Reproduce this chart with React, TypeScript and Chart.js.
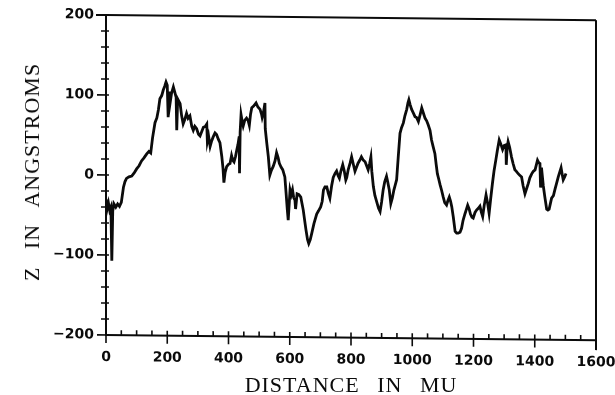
import React, { useEffect, useRef } from "react";
import { Chart, registerables } from "chart.js";

Chart.register(...registerables);

// Surface profile: lateral distance (MU) and height Z (angstroms)
const distance = [
  0, 4, 8, 12, 16, 19, 22, 26, 32, 38, 44, 50, 57, 62, 67, 75, 84, 92, 100, 108,
  116, 124, 133, 140, 146, 152, 160, 166, 171, 176, 182, 187, 192, 196, 200, 203, 206, 209, 214, 220,
  225, 229, 231, 234, 242, 247, 252, 257, 263, 268, 274, 280, 285, 290, 296, 302, 307, 313, 318, 324,
  329, 331, 335, 340, 345, 350, 356, 361, 367, 372, 378, 382, 385, 389, 394, 400, 405, 410, 414, 418,
  423, 427, 431, 435, 436, 438, 441, 445, 448, 453, 459, 464, 468, 472, 476, 482, 490, 496, 503, 508,
  510, 514, 519, 520, 525, 530, 535, 540, 546, 552, 557, 562, 566, 572, 577, 584, 588, 592, 595, 598,
  601, 605, 609, 613, 617, 619, 624, 630, 636, 640, 644, 649, 653, 658, 662, 667, 672, 679, 688, 694,
  701, 706, 710, 715, 721, 726, 731, 737, 742, 748, 753, 758, 762, 767, 773, 778, 783, 786, 791, 797,
  802, 808, 813, 818, 823, 829, 834, 840, 846, 851, 856, 861, 865, 868, 873, 878, 884, 890, 895, 900,
  905, 910, 916, 920, 925, 930, 935, 940, 945, 949, 954, 960, 965, 971, 976, 982, 986, 989, 993, 998,
  1003, 1009, 1014, 1020, 1026, 1031, 1036, 1042, 1047, 1052, 1058, 1063, 1068, 1074, 1078, 1082, 1086, 1091, 1096, 1101,
  1106, 1112, 1116, 1121, 1125, 1129, 1134, 1140, 1145, 1150, 1156, 1161, 1166, 1172, 1177, 1181, 1186, 1190, 1195, 1199,
  1205, 1210, 1215, 1221, 1226, 1230, 1235, 1241, 1246, 1251, 1256, 1262, 1267, 1273, 1278, 1284, 1289, 1295, 1300, 1306,
  1307, 1310, 1313, 1318, 1324, 1329, 1335, 1340, 1346, 1351, 1357, 1362, 1368, 1373, 1379, 1384, 1390, 1395, 1401, 1405,
  1409, 1413, 1417, 1419, 1422, 1428, 1433, 1439, 1443, 1447, 1451, 1455, 1461, 1466, 1471, 1477, 1482, 1486, 1490, 1493,
  1498, 1502,
];

const heightZ = [
  -30, -42, -35, -44, -40, -107, -45, -36, -40, -36, -39, -34, -15, -8, -4, -2, -1, 3, 8, 12,
  18, 22, 27, 30, 28, 47, 66, 72, 82, 96, 100, 107, 112, 117, 113, 73, 105, 90, 103, 111,
  104, 98, 57, 96, 90, 75, 65, 70, 78, 72, 75, 62, 57, 62, 59, 52, 50, 56, 61, 62,
  65, 43, 50, 37, 44, 49, 54, 52, 46, 42, 25, 10, -8, 5, 12, 15, 16, 26, 20, 18,
  25, 33, 40, 50, 4, 55, 77, 68, 63, 70, 73, 70, 64, 78, 86, 88, 92, 87, 84, 78,
  74, 80, 92, 60, 42, 25, 2, 8, 13, 20, 30, 24, 17, 12, 9, 0, -20, -41, -54, -35,
  -16, -22, -16, -26, -29, -40, -21, -22, -25, -33, -41, -55, -66, -78, -83, -78, -70, -58, -46, -42,
  -37, -30, -16, -12, -12, -20, -26, -10, 0, 5, 8, 2, -1, 8, 16, 8, -3, 0, 10, 18,
  26, 16, 8, 13, 18, 22, 26, 22, 20, 15, 10, 18, 26, 8, -11, -22, -30, -38, -42, -30,
  -15, -5, 2, -5, -15, -32, -25, -15, -8, -2, 25, 56, 63, 69, 78, 86, 94, 98, 92, 86,
  82, 77, 76, 71, 80, 88, 82, 75, 72, 67, 60, 48, 40, 31, 18, 6, 0, -8, -15, -23,
  -30, -33, -28, -23, -28, -35, -48, -66, -68, -68, -67, -62, -52, -44, -38, -33, -38, -44, -48, -49,
  -42, -39, -37, -34, -42, -47, -33, -20, -30, -43, -25, -5, 10, 24, 36, 49, 44, 37, 42, 43,
  18, 40, 47, 40, 28, 20, 12, 10, 7, 5, 3, -8, -18, -12, -5, 2, 7, 10, 12, 18,
  24, 21, 20, -10, 15, -8, -22, -37, -38, -37, -30, -23, -20, -12, -5, 4, 10, 15, 6, 0,
  4, 8,
];

const xMin = 0;
const xMax = 1600;
const xMajorStep = 200;
const xMinorStep = 50;
const yMin = -200;
const yMax = 200;
const yMajorStep = 100;
const yMinorStep = 20;

const INK = "#0b0b0b";
const CLEAR = "rgba(0,0,0,0)";
// slight downward slant of the whole plot towards the right
const SLANT = Math.tan((0.6 * Math.PI) / 180);

function segment(ctx: CanvasRenderingContext2D, x1: number, y1: number, x2: number, y2: number) {
  ctx.beginPath();
  ctx.moveTo(x1, y1);
  ctx.lineTo(x2, y2);
  ctx.stroke();
}

// Applies the slant to everything the chart draws, then adds the left/bottom axes and tick marks
const slantedFrame = {
  id: "slantedFrame",
  beforeDraw(chart: any) {
    const { ctx, chartArea } = chart;
    ctx.save();
    ctx.transform(1, SLANT, 0, 1, 0, -SLANT * chartArea.left);
  },
  afterDraw(chart: any) {
    const { ctx } = chart;
    const xs = chart.scales.x;
    const ys = chart.scales.y;
    const left = xs.getPixelForValue(xMin);
    const right = xs.getPixelForValue(xMax);
    const top = ys.getPixelForValue(yMax);
    const bottom = ys.getPixelForValue(yMin);
    ctx.strokeStyle = INK;
    ctx.lineCap = "square";
    ctx.lineWidth = 2;
    segment(ctx, left, bottom, right, bottom);
    segment(ctx, left, top, left, bottom);
    ctx.lineCap = "butt";
    ctx.lineWidth = 1.6;
    for (let v = xMin; v <= xMax; v += xMinorStep) {
      const px = xs.getPixelForValue(v);
      const major = v % xMajorStep === 0;
      segment(ctx, px, major ? bottom + 8 : bottom, px, bottom - 5);
    }
    for (let v = yMin; v <= yMax; v += yMinorStep) {
      const py = ys.getPixelForValue(v);
      const major = v % yMajorStep === 0;
      segment(ctx, major ? left - 9 : left - 5, py, left + 3, py);
    }
    ctx.restore();
  },
};

export default function App() {
  const canvasRef = useRef<HTMLCanvasElement | null>(null);

  useEffect(() => {
    const canvas = canvasRef.current;
    if (!canvas) return;
    const points = distance.map((d, i) => ({ x: d, y: heightZ[i] }));
    const tickFont = { family: "'DejaVu Sans', sans-serif", size: 14, weight: "bold" as const };
    const chart = new Chart(canvas, {
      type: "line",
      data: {
        datasets: [
          {
            data: points,
            borderColor: INK,
            borderWidth: 2.8,
            pointRadius: 0,
          },
        ],
      },
      options: {
        responsive: false,
        animation: false,
        events: [],
        layout: { padding: { left: 0, right: 19, top: 15, bottom: 0 } },
        plugins: { legend: { display: false }, tooltip: { enabled: false } },
        scales: {
          x: {
            type: "linear",
            min: xMin,
            max: xMax,
            // only the grid line at the last tick is inked: it closes the frame on the right
            grid: {
              display: true,
              drawTicks: true,
              tickLength: 10,
              lineWidth: 2,
              color: (c: any) => (c.tick && c.tick.value === xMax ? INK : CLEAR),
            },
            border: { display: false },
            ticks: {
              stepSize: xMajorStep,
              color: INK,
              font: tickFont,
              padding: 4,
              maxRotation: 0,
              callback: (v: any) => String(v),
            },
            afterFit(scale: any) {
              scale.height = 60;
              scale.paddingLeft = 0;
              scale.paddingRight = 0;
            },
          },
          y: {
            type: "linear",
            min: yMin,
            max: yMax,
            // only the grid line at the top tick is inked: it closes the frame on top
            grid: {
              display: true,
              drawTicks: true,
              tickLength: 10,
              lineWidth: 2,
              color: (c: any) => (c.tick && c.tick.value === yMax ? INK : CLEAR),
            },
            border: { display: false },
            ticks: {
              stepSize: yMajorStep,
              color: INK,
              font: tickFont,
              padding: 2,
              callback: (v: any) => String(v).replace("-", "\u2212"),
            },
            afterFit(scale: any) {
              scale.width = 106;
              scale.paddingTop = 0;
              scale.paddingBottom = 0;
            },
          },
        },
      },
      plugins: [slantedFrame],
    });
    return () => chart.destroy();
  }, []);

  const titleStyle: React.CSSProperties = {
    position: "absolute",
    fontFamily: "'Liberation Serif', 'Times New Roman', serif",
    fontSize: 22,
    lineHeight: "22px",
    letterSpacing: "1px",
    wordSpacing: "11px",
    color: INK,
    whiteSpace: "nowrap",
  };

  return (
    <div
      style={{
        position: "fixed",
        left: 0,
        top: 0,
        width: 615,
        height: 395,
        background: "#ffffff",
      }}
    >
      <canvas ref={canvasRef} width={615} height={395} style={{ display: "block" }} />
      <div style={{ ...titleStyle, left: 351, top: 385, transform: "translate(-50%, -50%)" }}>
        DISTANCE IN MU
      </div>
      <div
        style={{
          ...titleStyle,
          left: 32,
          top: 172,
          transform: "translate(-50%, -50%) rotate(-90deg)",
        }}
      >
        Z IN ANGSTROMS
      </div>
    </div>
  );
}
